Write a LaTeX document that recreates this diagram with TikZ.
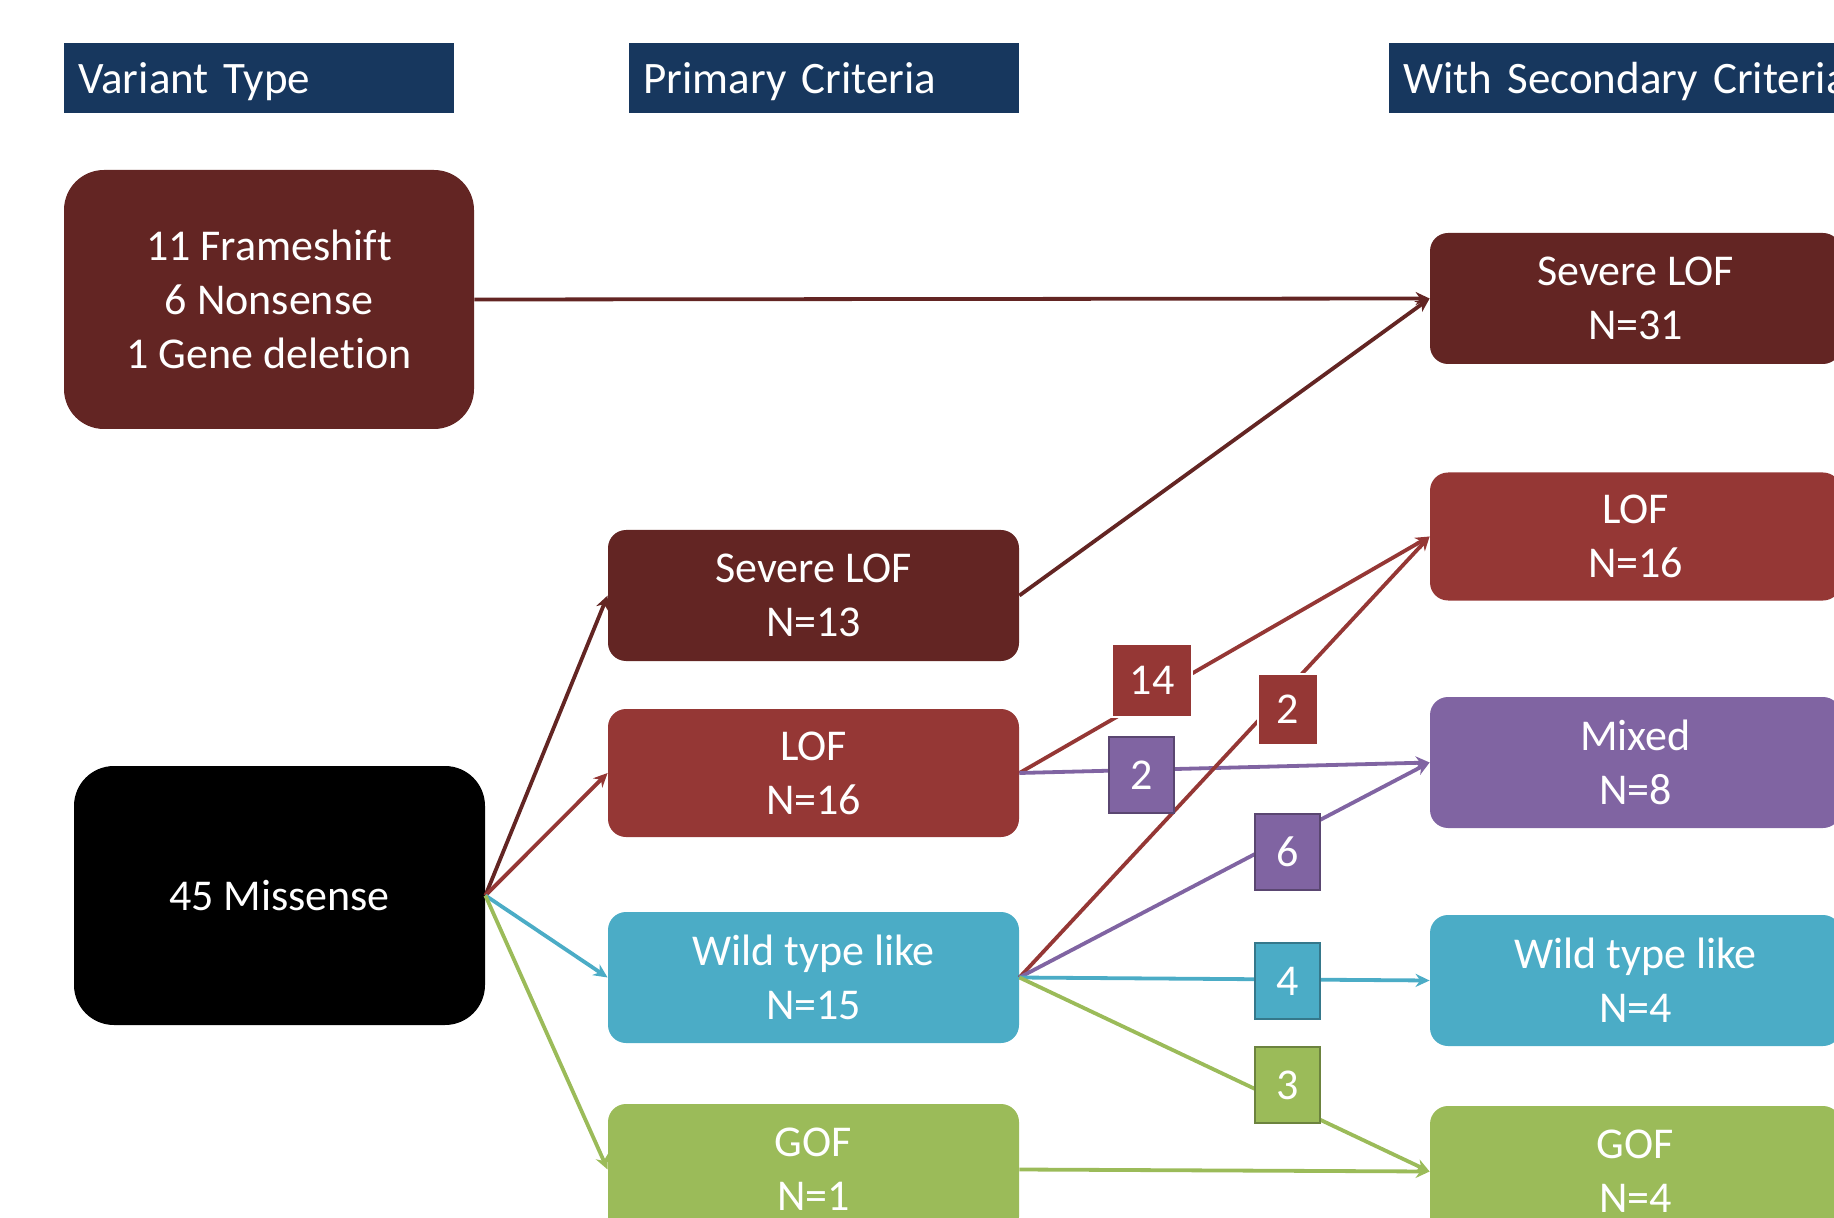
\documentclass[tikz,border=0pt]{standalone}
\usepackage{fontspec}
\setmainfont{Carlito}[Ligatures=NoCommon]
\usetikzlibrary{arrows.meta}
\definecolor{navy}{HTML}{17375E}
\definecolor{sevred}{HTML}{632523}
\definecolor{lofred}{HTML}{953735}
\definecolor{mixpur}{HTML}{8064A2}
\definecolor{wtblue}{HTML}{4BACC6}
\definecolor{gofgrn}{HTML}{9BBB59}
\tikzset{
  box/.style={rectangle, rounded corners=9pt, text=white, align=center, minimum width=205.5pt, minimum height=65pt, inner sep=0pt, font=\fontsize{22}{27}\selectfont},
  bigbox/.style={box, rounded corners=20pt, minimum height=129.5pt},
  head/.style={rectangle, fill=navy, text=white, anchor=west, minimum height=35pt, inner xsep=7pt, inner ysep=0pt, text height=20pt, text depth=4pt, align=left, font=\fontsize{22.5}{27}\selectfont},
  num/.style={rectangle, text=white, minimum width=32.5pt, minimum height=38pt, inner sep=0pt, line width=1pt, font=\fontsize{22}{27}\selectfont},
  link/.style={line width=1.9pt, -{Stealth[length=7pt,width=6.5pt]}}
}
\begin{document}
\begin{tikzpicture}[x=0.5pt,y=-0.5pt]
\useasboundingbox (0,0) rectangle (1834,1218);
\clip (0,0) rectangle (1834,1218);
% column headers
\node[head, text width=181pt] (hvar) at (64,78) {Variant Type};
\node[head, text width=181pt] (hpri) at (629,78) {Primary Criteria};
\node[head, text width=240pt] (hsec) at (1389,78) {With Secondary Criteria};
% variant type
\node[bigbox, fill=sevred, minimum width=205pt] (trunc) at (269,299.5) {11 Frameshift\\6 Nonsense\\1 Gene deletion};
\node[bigbox, fill=black] (mis) at (279.5,895.5) {45 Missense};
% primary criteria
\node[box, fill=sevred, minimum height=65.5pt] (psev) at (813.5,595.5) {Severe LOF\\N=13};
\node[box, fill=lofred, minimum height=64pt] (plof) at (813.5,773) {LOF\\N=16};
\node[box, fill=wtblue, minimum height=65.5pt] (pwt) at (813.5,977.5) {Wild type like\\N=15};
\node[box, fill=gofgrn, minimum height=65.5pt] (pgof) at (813.5,1169.5) {GOF\\N=1};
% with secondary criteria
\node[box, fill=sevred, minimum height=65.5pt] (ssev) at (1635.5,298.5) {Severe LOF\\N=31};
\node[box, fill=lofred, minimum height=64pt] (slof) at (1635.5,536.5) {LOF\\N=16};
\node[box, fill=mixpur, minimum height=65.5pt] (smix) at (1635.5,762.5) {Mixed\\N=8};
\node[box, fill=wtblue, minimum height=65.5pt] (swt) at (1635.5,980.5) {Wild type like\\N=4};
\node[box, fill=gofgrn, minimum height=65.5pt] (sgof) at (1635.5,1171.5) {GOF\\N=4};
% connectors
\draw[link, sevred] (trunc.east) -- (ssev.west);
\draw[link, sevred] (psev.east) -- (ssev.west);
\draw[link, sevred] (mis.east) -- (psev.west);
\draw[link, lofred] (mis.east) -- (plof.west);
\draw[link, wtblue] (mis.east) -- (pwt.west);
\draw[link, gofgrn] (mis.east) -- (pgof.west);
\draw[link, lofred] (plof.east) -- (slof.west);
\draw[link, mixpur] (plof.east) -- (smix.west);
\draw[link, lofred] (pwt.east) -- (slof.west);
\draw[link, mixpur] (pwt.east) -- (smix.west);
\draw[link, wtblue] (pwt.east) -- (swt.west);
\draw[link, gofgrn] (pwt.east) -- (sgof.west);
\draw[link, gofgrn] (pgof.east) -- (sgof.west);
% counts
\node[num, fill=lofred, draw=white, minimum width=40pt, minimum height=36.5pt] (n14) at (1152,680.5) {14};
\node[num, fill=lofred, draw=white, minimum width=30pt, minimum height=35.5pt] (n2r) at (1288,709.5) {2};
\node[num, fill=mixpur, draw=mixpur!70!black] (n2p) at (1141.5,775) {2};
\node[num, fill=mixpur, draw=mixpur!70!black] (n6) at (1287.5,852) {6};
\node[num, fill=wtblue, draw=wtblue!70!black] (n4) at (1287.5,981) {4};
\node[num, fill=gofgrn, draw=gofgrn!70!black] (n3) at (1287.5,1085) {3};
\end{tikzpicture}
\end{document}
